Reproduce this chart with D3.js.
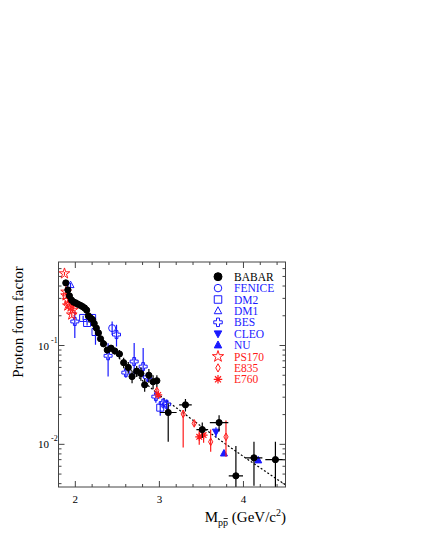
<!DOCTYPE html>
<html>
<head>
<meta charset="utf-8">
<script src="https://cdn.jsdelivr.net/npm/d3@7"></script>
<style>
  body { margin: 0; background: #fff; }
  svg { display: block; font-family: "Liberation Serif", "Times New Roman", serif; }
</style>
</head>
<body>
<div class="chart"></div>
<script>
// rows: [mass, ff, errDown, errUp, massErr]
const babar = [
  [1.887, 0.43, 0.02, 0.02, 0], [1.912, 0.365, 0.015, 0.015, 0], [1.93, 0.318, 0.013, 0.013, 0],
  [1.955, 0.288, 0.011, 0.011, 0], [1.98, 0.275, 0.01, 0.01, 0], [2.005, 0.27, 0.01, 0.01, 0],
  [2.03, 0.262, 0.01, 0.01, 0], [2.06, 0.255, 0.01, 0.01, 0], [2.085, 0.248, 0.01, 0.01, 0],
  [2.11, 0.24, 0.01, 0.01, 0], [2.135, 0.228, 0.01, 0.01, 0], [2.155, 0.2, 0.01, 0.01, 0],
  [2.18, 0.19, 0.01, 0.01, 0], [2.205, 0.183, 0.01, 0.01, 0], [2.225, 0.167, 0.009, 0.009, 0],
  [2.25, 0.15, 0.008, 0.008, 0], [2.275, 0.134, 0.008, 0.008, 0], [2.3, 0.117, 0.007, 0.007, 0],
  [2.335, 0.104, 0.007, 0.007, 0], [2.38, 0.09, 0.006, 0.006, 0], [2.425, 0.094, 0.007, 0.007, 0],
  [2.47, 0.088, 0.007, 0.007, 0], [2.525, 0.082, 0.008, 0.008, 0], [2.575, 0.067, 0.008, 0.008, 0],
  [2.63, 0.06, 0.008, 0.008, 0], [2.675, 0.0485, 0.007, 0.007, 0], [2.73, 0.055, 0.007, 0.007, 0],
  [2.78, 0.052, 0.008, 0.008, 0], [2.825, 0.04, 0.006, 0.006, 0], [2.875, 0.05, 0.008, 0.008, 0],
  [2.925, 0.043, 0.007, 0.007, 0], [2.97, 0.044, 0.006, 0.006, 0],
  [3.105, 0.021, 0.0104, 0.005, 0.1], [3.31, 0.0251, 0.0036, 0.0036, 0.075],
  [3.51, 0.0141, 0.0025, 0.0025, 0.07], [3.71, 0.0166, 0.0031, 0.0031, 0.11],
  [3.91, 0.0048, 0.0047, 0.0048, 0.085], [4.125, 0.0073, 0.0035, 0.0033, 0.1],
  [4.38, 0.007, 0.0036, 0.0036, 0.12]
];
const fenice = [[2.438, 0.15, 0.022, 0.025, 0]];
const dm2 = [
  [2.093, 0.19, 0.01, 0.01, 0], [2.14, 0.169, 0.01, 0.01, 0], [2.2, 0.19, 0.01, 0.01, 0],
  [2.24, 0.137, 0.035, 0.01, 0], [3.01, 0.0235, 0.004, 0.004, 0]
];
const dm1 = [[1.943, 0.41, 0.02, 0.02, 0]];
const bes = [
  [1.994, 0.175, 0.056, 0.045, 0], [2.49, 0.129, 0.031, 0.033, 0], [2.39, 0.0787, 0.03, 0.027, 0],
  [2.601, 0.0532, 0.006, 0.006, 0], [2.7, 0.0689, 0.022, 0.037, 0], [2.807, 0.0612, 0.014, 0.033, 0],
  [2.86, 0.0478, 0.005, 0.005, 0], [2.958, 0.0304, 0.004, 0.004, 0], [3.045, 0.0261, 0.003, 0.003, 0],
  [3.086, 0.0254, 0.003, 0.003, 0]
];
const cleo = [[3.673, 0.0134, 0.0016, 0.0015, 0]];
const nu = [[3.768, 0.0081, 0.0004, 0.0004, 0], [4.176, 0.0069, 0.0004, 0.0004, 0]];
const ps170 = [
  [1.871, 0.535, 0.02, 0.02, 0], [1.89, 0.349, 0.02, 0.02, 0], [1.89, 0.32, 0.02, 0.02, 0],
  [1.911, 0.288, 0.015, 0.015, 0], [1.931, 0.265, 0.015, 0.015, 0], [1.95, 0.247, 0.012, 0.012, 0],
  [1.97, 0.229, 0.012, 0.012, 0], [1.911, 0.253, 0.012, 0.012, 0], [1.958, 0.205, 0.012, 0.012, 0]
];
const e835 = [
  [2.97, 0.0348, 0.002, 0.002, 0], [3.283, 0.0203, 0.011, 0.002, 0], [3.414, 0.0163, 0.001, 0.001, 0],
  [3.61, 0.0106, 0.0022, 0.0035, 0], [3.792, 0.0119, 0.0044, 0.0055, 0]
];
const e760 = [[2.986, 0.0316, 0.002, 0.002, 0], [3.474, 0.0119, 0.002, 0.002, 0], [3.526, 0.0124, 0.002, 0.002, 0]];
// dashed fit curve
const fitMass = [2.125, 2.411, 2.97, 3.28, 3.72, 4.506];
const fitFF = [0.191, 0.0948, 0.0331, 0.0209, 0.01107, 0.00386];

const legendNames = ["BABAR", "FENICE", "DM2", "DM1", "BES", "CLEO", "NU", "PS170", "E835", "E760"];
const xTicks = [2, 3, 4];
const yTicks = [0.01, 0.1];
const yTickLabels = ["-2", "-1"];

const W = 423, H = 547;
const black = "#000", blue = "#1a1aff", red = "#ff1a1a";

const x = d3.scaleLinear().domain([1.8, 4.5]).range([58.5, 285.5]);
const y = d3.scaleLog().domain([0.0037, 0.7]).range([487, 262]);

const svg = d3.select('.chart').append('svg').attr('width', W).attr('height', H);

// marker shapes
function shape(kind, s) {
  const r = s / 2;
  switch (kind) {
    case 'circle': return d3.symbol(d3.symbolCircle, Math.PI * r * r)();
    case 'square': return `M${-r},${-r}H${r}V${r}H${-r}Z`;
    case 'triUp': return `M0,${-r * 1.1}L${r},${r * 0.75}L${-r},${r * 0.75}Z`;
    case 'triDown': return `M0,${r * 1.1}L${r},${-r * 0.75}L${-r},${-r * 0.75}Z`;
    case 'cross': { const a = r * 0.35;
      return `M${-a},${-r}H${a}V${-a}H${r}V${a}H${a}V${r}H${-a}V${a}H${-r}V${-a}H${-a}Z`; }
    case 'star': return d3.symbol(d3.symbolStar, s * s * 0.55)();
    case 'diamond': return `M0,${-r * 1.1}L${r * 0.6},0L0,${r * 1.1}L${-r * 0.6},0Z`;
    case 'asterisk': { let p = '';
      [0, 45, 90, 135].forEach(a => { const c = Math.cos(a * Math.PI / 180) * r, sn = Math.sin(a * Math.PI / 180) * r;
        p += `M${-c},${-sn}L${c},${sn}`; });
      return p; }
  }
}

const sets = [
  {name: "BABAR", data: babar, kind: 'circle', color: black, fill: true, size: 6.2},
  {name: "FENICE", data: fenice, kind: 'circle', color: blue, fill: false, size: 7},
  {name: "DM2", data: dm2, kind: 'square', color: blue, fill: false, size: 7},
  {name: "DM1", data: dm1, kind: 'triUp', color: blue, fill: false, size: 7},
  {name: "BES", data: bes, kind: 'cross', color: blue, fill: false, size: 8},
  {name: "CLEO", data: cleo, kind: 'triDown', color: blue, fill: true, size: 7},
  {name: "NU", data: nu, kind: 'triUp', color: blue, fill: true, size: 7},
  {name: "PS170", data: ps170, kind: 'star', color: red, fill: false, size: 8},
  {name: "E835", data: e835, kind: 'diamond', color: red, fill: false, size: 7},
  {name: "E760", data: e760, kind: 'asterisk', color: red, fill: false, size: 8}
];

const plot = svg.append('g');
plot.append('clipPath').attr('id', 'clip').append('rect')
  .attr('x', 58.5).attr('y', 262).attr('width', 227).attr('height', 225);

// fit line
const lineFun = d3.line()
  .x(function(d, i){ return x(fitMass[i]); })
  .y(function(d){ return y(d); })
  .curve(d3.curveMonotoneX);
plot.append('path')
  .attr('d', lineFun(fitFF))
  .attr('fill', 'none')
  .attr('stroke', '#000')
  .attr('stroke-width', 1.2)
  .attr('stroke-dasharray', '2,2');

const drawOrder = [1, 2, 3, 4, 5, 6, 7, 8, 9, 0];
drawOrder.forEach(function(k) {
  const s = sets[k];
  const g = plot.append('g').attr('clip-path', 'url(#clip)');
  // vertical error bars
  g.selectAll('line.ey').data(s.data).enter().append('line')
    .attr('x1', d => x(d[0])).attr('x2', d => x(d[0]))
    .attr('y1', d => y(Math.max(d[1] - d[2], 0.0036))).attr('y2', d => y(d[1] + d[3]))
    .attr('stroke', s.color).attr('stroke-width', 1.2);
  // horizontal error bars
  g.selectAll('line.ex').data(s.data.filter(d => d[4] > 0)).enter().append('line')
    .attr('x1', d => x(d[0] - d[4])).attr('x2', d => x(d[0] + d[4]))
    .attr('y1', d => y(d[1])).attr('y2', d => y(d[1]))
    .attr('stroke', s.color).attr('stroke-width', 1.2);
  g.selectAll('path.m').data(s.data).enter().append('path')
    .attr('d', shape(s.kind, s.size))
    .attr('transform', d => `translate(${x(d[0])},${y(d[1])})`)
    .attr('fill', s.fill ? s.color : (s.kind === 'asterisk' ? 'none' : '#fff'))
    .attr('fill-opacity', s.fill ? 1 : 0)
    .attr('stroke', s.color)
    .attr('stroke-width', s.kind === 'asterisk' ? 1.2 : 1);
});

// frame and ticks
const axisColor = '#444';
svg.append('rect').attr('x', 58.5).attr('y', 262).attr('width', 227).attr('height', 225)
  .attr('fill', 'none').attr('stroke', axisColor).attr('stroke-width', 1);

const xMinor = d3.range(2.2, 4.5, 0.2).filter(v => Math.abs(v - 3) > 0.01 && Math.abs(v - 4) > 0.01);
[[487, -1], [262, 1]].forEach(function(p) {
  xTicks.forEach(v => svg.append('line').attr('x1', x(v)).attr('x2', x(v))
    .attr('y1', p[0]).attr('y2', p[0] + p[1] * 6).attr('stroke', axisColor));
  xMinor.forEach(v => svg.append('line').attr('x1', x(v)).attr('x2', x(v))
    .attr('y1', p[0]).attr('y2', p[0] + p[1] * 3).attr('stroke', axisColor));
});
const yMinor = [];
[0.001, 0.01, 0.1].forEach(dec => d3.range(2, 10).forEach(m => {
  const v = dec * m; if (v > 0.0037 && v < 0.7) yMinor.push(v);
}));
[[58.5, 1], [285.5, -1]].forEach(function(p) {
  yTicks.forEach(v => svg.append('line').attr('x1', p[0]).attr('x2', p[0] + p[1] * 6)
    .attr('y1', y(v)).attr('y2', y(v)).attr('stroke', axisColor));
  yMinor.forEach(v => svg.append('line').attr('x1', p[0]).attr('x2', p[0] + p[1] * 3)
    .attr('y1', y(v)).attr('y2', y(v)).attr('stroke', axisColor));
});

// tick labels
svg.selectAll('text.xt').data(xTicks).enter().append('text')
  .text(d => d).attr('x', d => x(d)).attr('y', 503)
  .attr('text-anchor', 'middle').attr('font-size', '11px').attr('fill', '#000');
yTicks.forEach(function(v, i) {
  const t = svg.append('text').attr('x', 38).attr('y', y(v) + 4).attr('font-size', '11px').attr('fill', '#000');
  t.append('tspan').text('10');
  t.append('tspan').text(yTickLabels[i]).attr('font-size', '8px').attr('dx', 2).attr('dy', -7);
});

// axis titles
svg.append('text').text('Proton form factor')
  .attr('transform', 'translate(23,322) rotate(-90)')
  .attr('text-anchor', 'middle').attr('font-size', '15px').attr('fill', '#000');
const xt = svg.append('text').attr('x', 286).attr('y', 522).attr('text-anchor', 'end')
  .attr('font-size', '15px').attr('fill', '#000');
xt.append('tspan').text('M');
xt.append('tspan').text('pp').attr('font-size', '10px').attr('dy', 4);
xt.append('tspan').text(' (GeV/c').attr('dy', -4);
xt.append('tspan').text('2').attr('font-size', '10px').attr('dy', -6);
xt.append('tspan').text(')').attr('dy', 6);
// bar over the second p of the subscript
const n = xt.node();
const p0 = n.getStartPositionOfChar(2), p1 = n.getEndPositionOfChar(2);
svg.append('line').attr('x1', p0.x + 0.5).attr('x2', p1.x - 0.3)
  .attr('y1', p0.y - 7.5).attr('y2', p0.y - 7.5)
  .attr('stroke', '#000').attr('stroke-width', 0.8);

// legend
const leg = svg.append('g');
sets.forEach(function(s, i) {
  const cy = 276.7 + i * 11.4;
  leg.append('path').attr('d', shape(s.kind, i === 0 ? 8 : s.size + 0.5))
    .attr('transform', `translate(218,${cy})`)
    .attr('fill', s.fill ? s.color : 'none')
    .attr('stroke', s.color).attr('stroke-width', s.kind === 'asterisk' ? 1.2 : 1);
  leg.append('text').text(legendNames[i]).attr('x', 234).attr('y', cy + 4)
    .attr('font-size', '11.5px').attr('fill', s.color);
});
</script>
</body>
</html>
